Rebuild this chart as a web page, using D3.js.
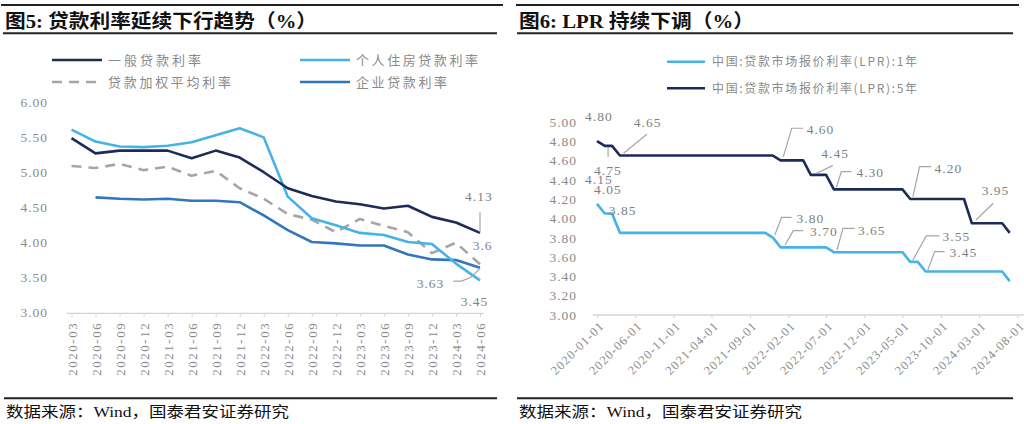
<!DOCTYPE html>
<html><head><meta charset="utf-8">
<script src="https://cdn.jsdelivr.net/npm/d3@7"></script>
<style>body{margin:0;background:#fff} svg{display:block}</style>
</head><body>
<svg id="c" width="1024" height="424"></svg>
<script>
// ---------------- DATA ----------------
const leftCategories = ["2020-03","2020-06","2020-09","2020-12","2021-03","2021-06","2021-09","2021-12","2022-03","2022-06","2022-09","2022-12","2023-03","2023-06","2023-09","2023-12","2024-03","2024-06"];
const generalRate   = [5.49,5.27,5.31,5.31,5.31,5.20,5.31,5.21,5.00,4.77,4.66,4.58,4.54,4.48,4.52,4.36,4.28,4.13];
const mortgageRate  = [5.61,5.44,5.37,5.36,5.38,5.43,5.53,5.63,5.50,4.65,4.34,4.24,4.13,4.10,4.00,3.97,3.69,3.45];
const weightedRate  = [5.09,5.06,5.12,5.03,5.08,4.95,5.02,4.77,4.62,4.40,4.32,4.14,4.33,4.23,4.14,3.84,3.99,3.68];
const corporateRate = [null,4.64,4.62,4.61,4.62,4.59,4.59,4.57,4.38,4.17,4.00,3.98,3.95,3.95,3.82,3.75,3.74,3.63];
const leftSeriesNames = ["一般贷款利率","个人住房贷款利率","贷款加权平均利率","企业贷款利率"];
const leftYTicks = [3.0,3.5,4.0,4.5,5.0,5.5,6.0];
const leftLabels = [
  {series:"general",  cat:"2024-06", text:"4.13"},
  {series:"weighted", cat:"2024-06", text:"3.6"},
  {series:"corporate",cat:"2024-06", text:"3.63"},
  {series:"mortgage", cat:"2024-06", text:"3.45"}
];

const lprMonths = ["2020-01","2020-02","2020-03","2020-04","2020-05","2020-06","2020-07","2020-08","2020-09","2020-10","2020-11","2020-12",
"2021-01","2021-02","2021-03","2021-04","2021-05","2021-06","2021-07","2021-08","2021-09","2021-10","2021-11","2021-12",
"2022-01","2022-02","2022-03","2022-04","2022-05","2022-06","2022-07","2022-08","2022-09","2022-10","2022-11","2022-12",
"2023-01","2023-02","2023-03","2023-04","2023-05","2023-06","2023-07","2023-08","2023-09","2023-10","2023-11","2023-12",
"2024-01","2024-02","2024-03","2024-04","2024-05","2024-06","2024-07"];
const lpr1Y = [4.15,4.05,4.05,3.85,3.85,3.85,3.85,3.85,3.85,3.85,3.85,3.85,
3.85,3.85,3.85,3.85,3.85,3.85,3.85,3.85,3.85,3.85,3.85,3.80,
3.70,3.70,3.70,3.70,3.70,3.70,3.70,3.65,3.65,3.65,3.65,3.65,
3.65,3.65,3.65,3.65,3.65,3.55,3.55,3.45,3.45,3.45,3.45,3.45,
3.45,3.45,3.45,3.45,3.45,3.45,3.35];
const lpr5Y = [4.80,4.75,4.75,4.65,4.65,4.65,4.65,4.65,4.65,4.65,4.65,4.65,
4.65,4.65,4.65,4.65,4.65,4.65,4.65,4.65,4.65,4.65,4.65,4.65,
4.60,4.60,4.60,4.60,4.45,4.45,4.45,4.30,4.30,4.30,4.30,4.30,
4.30,4.30,4.30,4.30,4.30,4.20,4.20,4.20,4.20,4.20,4.20,4.20,
4.20,3.95,3.95,3.95,3.95,3.95,3.85];
const lprSeriesNames = ["中国:贷款市场报价利率(LPR):1年","中国:贷款市场报价利率(LPR):5年"];
const rightXTicks = ["2020-01-01","2020-06-01","2020-11-01","2021-04-01","2021-09-01","2022-02-01","2022-07-01","2022-12-01","2023-05-01","2023-10-01","2024-03-01","2024-08-01"];
const rightYTicks = [3.0,3.2,3.4,3.6,3.8,4.0,4.2,4.4,4.6,4.8,5.0];
const lprLabels = [
  {series:"5Y", month:"2020-01", text:"4.80"},
  {series:"5Y", month:"2020-02", text:"4.75"},
  {series:"5Y", month:"2020-04", text:"4.65"},
  {series:"1Y", month:"2020-01", text:"4.15"},
  {series:"1Y", month:"2020-02", text:"4.05"},
  {series:"1Y", month:"2020-04", text:"3.85"},
  {series:"5Y", month:"2022-01", text:"4.60"},
  {series:"5Y", month:"2022-05", text:"4.45"},
  {series:"5Y", month:"2022-08", text:"4.30"},
  {series:"5Y", month:"2023-06", text:"4.20"},
  {series:"5Y", month:"2024-02", text:"3.95"},
  {series:"1Y", month:"2021-12", text:"3.80"},
  {series:"1Y", month:"2022-01", text:"3.70"},
  {series:"1Y", month:"2022-08", text:"3.65"},
  {series:"1Y", month:"2023-06", text:"3.55"},
  {series:"1Y", month:"2023-08", text:"3.45"}
];

// ---------------- LAYOUT / STYLE ----------------
const C_NAVY = "#1d2b59", C_LIGHT = "#45b3e7", C_MID = "#3476bd", C_GRAY = "#a6a6a6";
const SERIF = "'Liberation Serif','Noto Sans CJK SC',serif";
const CJK = "'Noto Sans CJK SC','Liberation Serif',sans-serif";
const TXT_GRAY = "#8a8a8a", LBL_GRAY = "#7f7f7f", LEADER = "#a6a6a6";

// label layout: text offset (tx = left, ty = middle) and leader points, relative to the data point
const leftLabelLayout = [
  {tx:-15, ty:-36.3, leader:[[0,-20.6],[0,-0.6]]},
  {tx:-7.3, ty:-19.2, leader:null},
  {tx:-63.3, ty:15.6, leader:[[-26.7,13.3],[-18.3,13.3],[-8.3,9],[0,0.6]]},
  {tx:-19.3, ty:20.5, leader:null}
];
const lprLabelLayout = [
  {tx:-12, ty:-24.3, leader:null},
  {tx:-10.7, ty:24, leader:[[3.3,1.1],[3.3,11.1]]},
  {tx:14, ty:-32.8, leader:[[27,-21.2],[3.7,-2.2]]},
  {tx:-12, ty:-24.9, leader:null},
  {tx:-10.7, ty:-24.6, leader:null},
  {tx:-11, ty:-22.9, leader:null},
  {tx:26.1, ty:-31.1, leader:[[22.7,-32.1],[11.1,-32.1],[2.7,-3.7]]},
  {tx:10.5, ty:-21.6, leader:[[22.1,-9.2],[5.5,-1.6]]},
  {tx:22.5, ty:-16.7, leader:[[17.5,-17.7],[7.5,-17.7],[2.5,-2.1]]},
  {tx:24.35, ty:-30.8, leader:[[21,-32.4],[9.35,-32.4],[2.65,-2.4]]},
  {tx:9.85, ty:-32.5, leader:[[21.45,-19.9],[4.15,-3.2]]},
  {tx:23.75, ty:-19.4, leader:[[18.75,-20.4],[8.75,-20.4],[2,-2.7]]},
  {tx:29.4, ty:-15.7, leader:[[22.7,-16.7],[12.7,-16.7],[4.4,-2.4]]},
  {tx:24.1, ty:-22.2, leader:[[20.8,-23.9],[9.1,-23.9],[3.1,-2.2]]},
  {tx:32.35, ty:-25.2, leader:[[29.35,-25.9],[16.05,-25.9],[2.65,-1.9]]},
  {tx:24.05, ty:-18.9, leader:[[19.05,-19.9],[9.05,-19.9],[2.35,-1.6]]}
];

const svg = d3.select("#c");

// ---------- headers / footers ----------
function frame(x0, x1, titleX, title, titleW, footX) {
  svg.append("line").attr("x1",x0).attr("x2",x1).attr("y1",5).attr("y2",5).attr("stroke","#222").attr("stroke-width",2);
  svg.append("line").attr("x1",titleX-2).attr("x2",x1-6).attr("y1",33.3).attr("y2",33.3).attr("stroke","#222").attr("stroke-width",2);
  svg.append("text").attr("x",titleX).attr("y",21.5).attr("dy","0.35em")
    .attr("font-family",SERIF).attr("font-weight","bold").attr("font-size",19).attr("fill","#111")
    .attr("textLength",titleW).attr("lengthAdjust","spacingAndGlyphs").text(title);
  svg.append("line").attr("x1",footX-2).attr("x2",x1-6).attr("y1",398.3).attr("y2",398.3).attr("stroke","#222").attr("stroke-width",2);
  svg.append("text").attr("x",footX).attr("y",411.5).attr("dy","0.35em")
    .attr("font-family",SERIF).attr("font-size",15).attr("fill","#111")
    .attr("textLength",283).attr("lengthAdjust","spacingAndGlyphs").text("数据来源：Wind，国泰君安证券研究");
}
frame(1, 503, 5, "图5:  贷款利率延续下行趋势（%）", 312, 6);
frame(516, 1019, 519, "图6:  LPR 持续下调（%）", 235, 519);

// ---------- LEFT CHART ----------
const xL = d3.scalePoint().domain(leftCategories).range([71.5, 480]);
const yL = d3.scaleLinear().domain([3,6]).range([311.7,102.5]);
const gL = svg.append("g");

// y axis labels
const yAxL = gL.append("g").attr("transform","translate(51,0)")
  .call(d3.axisLeft(yL).tickValues(leftYTicks).tickSize(0).tickPadding(3).tickFormat(d3.format(".2f")));
yAxL.select(".domain").remove();
yAxL.selectAll("text").attr("font-family",SERIF).attr("font-size",13.5).attr("fill",TXT_GRAY).attr("letter-spacing","1px");

// x axis
const xAxL = gL.append("g").attr("transform","translate(0,313.3)")
  .call(d3.axisBottom(xL).tickSize(3.5).tickSizeOuter(0));
xAxL.select(".domain").remove();
xAxL.append("line").attr("x1",xL.range()[0]-5).attr("x2",xL.range()[1]+4).attr("stroke","#d4d4d4").attr("stroke-width",1.3);
xAxL.selectAll(".tick line").attr("stroke","#d4d4d4");
xAxL.selectAll(".tick text").attr("transform","rotate(-90)").attr("text-anchor","end")
  .attr("x",-8.5).attr("y",0).attr("dy","0.35em")
  .attr("font-family",SERIF).attr("font-size",13).attr("fill",TXT_GRAY).attr("letter-spacing","1.5px");

const leftSeries = [
  {key:"weighted", values:weightedRate, color:C_GRAY, dash:"10,7"},
  {key:"corporate", values:corporateRate, color:C_MID, dash:null},
  {key:"mortgage", values:mortgageRate, color:C_LIGHT, dash:null},
  {key:"general", values:generalRate, color:C_NAVY, dash:null}
];
const lineL = vals => d3.line().defined(d=>d!=null).x((d,i)=>xL(leftCategories[i])).y(d=>yL(d))(vals);
leftSeries.forEach(s=>{
  gL.append("path").attr("d",lineL(s.values)).attr("fill","none").attr("stroke",s.color)
    .attr("stroke-width",2.6).attr("stroke-linejoin","round")
    .attr("stroke-dasharray",s.dash);
});

// legend
const legL = [
  {name:leftSeriesNames[0], color:C_NAVY, dash:null, x:52, y:60, w:93},
  {name:leftSeriesNames[1], color:C_LIGHT, dash:null, x:300, y:60, w:122},
  {name:leftSeriesNames[2], color:C_GRAY, dash:"10,7", x:52, y:82, w:123},
  {name:leftSeriesNames[3], color:C_MID, dash:null, x:300, y:82, w:91}
];
legL.forEach(l=>{
  gL.append("line").attr("x1",l.x).attr("x2",l.x+50).attr("y1",l.y).attr("y2",l.y)
    .attr("stroke",l.color).attr("stroke-width",2.6).attr("stroke-dasharray",l.dash);
  gL.append("text").attr("x",l.x+56).attr("y",l.y).attr("dy","0.35em").attr("font-family",CJK)
    .attr("font-size",13).attr("fill",TXT_GRAY).attr("textLength",l.w).attr("lengthAdjust","spacing").text(l.name);
});

// labels
const leftByKey = {general:generalRate, mortgage:mortgageRate, weighted:weightedRate, corporate:corporateRate};
leftLabels.forEach((lb,k)=>{
  const lay = leftLabelLayout[k];
  const px = xL(lb.cat), py = yL(leftByKey[lb.series][leftCategories.indexOf(lb.cat)]);
  if (lay.leader) gL.append("path").attr("d",d3.line()(lay.leader.map(p=>[px+p[0],py+p[1]])))
    .attr("fill","none").attr("stroke",LEADER).attr("stroke-width",1.2);
  gL.append("text").attr("x",px+lay.tx).attr("y",py+lay.ty).attr("dy","0.35em")
    .attr("font-family",SERIF).attr("font-size",13.5).attr("fill",LBL_GRAY).attr("letter-spacing","1px").text(lb.text);
});

// ---------- RIGHT CHART ----------
const parseDay = d3.timeParse("%Y-%m-%d");
const parseMonth = d3.timeParse("%Y-%m");
const xR = d3.scaleTime().domain([parseDay("2020-01-01"), parseDay("2024-08-01")]).range([597, 1017.5]);
const yR = d3.scaleLinear().domain([3,5]).range([315,121.7]);
const gR = svg.append("g");

const yAxR = gR.append("g").attr("transform","translate(580,0)")
  .call(d3.axisLeft(yR).tickValues(rightYTicks).tickSize(0).tickPadding(3).tickFormat(d3.format(".2f")));
yAxR.select(".domain").remove();
yAxR.selectAll("text").attr("font-family",SERIF).attr("font-size",13.5).attr("fill",TXT_GRAY).attr("letter-spacing","1px");

const xAxR = gR.append("g").attr("transform","translate(0,315)")
  .call(d3.axisBottom(xR).tickValues(rightXTicks.map(parseDay)).tickSize(3.5).tickSizeOuter(0).tickFormat(d3.timeFormat("%Y-%m-%d")));
xAxR.select(".domain").remove();
xAxR.append("line").attr("x1",593).attr("x2",1024).attr("stroke","#d4d4d4").attr("stroke-width",1.3);
xAxR.selectAll(".tick line").attr("stroke","#d4d4d4");
xAxR.selectAll(".tick text").attr("transform","rotate(-45)").attr("text-anchor","end")
  .attr("x",-3).attr("y",9).attr("dy","0.35em")
  .attr("font-family",SERIF).attr("font-size",12.5).attr("fill",TXT_GRAY).attr("letter-spacing","1.1px");

const lineR = vals => d3.line().x((d,i)=>xR(parseMonth(lprMonths[i]))).y(d=>yR(d))(vals);
[{v:lpr1Y,c:C_LIGHT},{v:lpr5Y,c:C_NAVY}].forEach(s=>{
  gR.append("path").attr("d",lineR(s.v)).attr("fill","none").attr("stroke",s.c)
    .attr("stroke-width",2.6).attr("stroke-linejoin","round");
});

// legend
[{name:lprSeriesNames[0],c:C_LIGHT,y:61.7},{name:lprSeriesNames[1],c:C_NAVY,y:88.3}].forEach(l=>{
  gR.append("line").attr("x1",667).attr("x2",705).attr("y1",l.y).attr("y2",l.y).attr("stroke",l.c).attr("stroke-width",2.6);
  gR.append("text").attr("x",712).attr("y",l.y).attr("dy","0.35em").attr("font-family",CJK)
    .attr("font-size",12).attr("fill",TXT_GRAY).attr("textLength",205).attr("lengthAdjust","spacing").text(l.name);
});

// labels
const lprByKey = {"1Y":lpr1Y, "5Y":lpr5Y};
lprLabels.forEach((lb,k)=>{
  const lay = lprLabelLayout[k];
  const px = xR(parseMonth(lb.month)), py = yR(lprByKey[lb.series][lprMonths.indexOf(lb.month)]);
  if (lay.leader) gR.append("path").attr("d",d3.line()(lay.leader.map(p=>[px+p[0],py+p[1]])))
    .attr("fill","none").attr("stroke",LEADER).attr("stroke-width",1.2);
  gR.append("text").attr("x",px+lay.tx).attr("y",py+lay.ty).attr("dy","0.35em")
    .attr("font-family",SERIF).attr("font-size",13.5).attr("fill",LBL_GRAY).attr("letter-spacing","1px").text(lb.text);
});
</script>
</body></html>
